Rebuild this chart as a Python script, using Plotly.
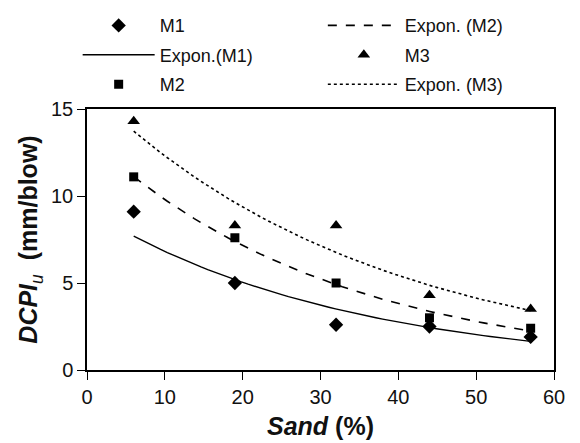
import numpy as np
import plotly.graph_objects as go

sand = [6, 19, 32, 44, 57]
m1 = [9.1, 5.0, 2.6, 2.5, 1.9]
m2 = [11.1, 7.6, 5.0, 3.0, 2.4]
m3 = [14.3, 8.3, 8.3, 4.3, 3.5]

x_ticks = [0, 10, 20, 30, 40, 50, 60]
y_ticks = [0, 5, 10, 15]


def expon_fit(x, y):
    b, ln_a = np.polyfit(np.array(x, float), np.log(np.array(y, float)), 1)
    xs = np.linspace(min(x), max(x), 60)
    return xs, np.exp(ln_a) * np.exp(b * xs)


fig = go.Figure()
black = "black"

fx1, fy1 = expon_fit(sand, m1)
fx2, fy2 = expon_fit(sand, m2)
fx3, fy3 = expon_fit(sand, m3)

fig.add_trace(go.Scatter(x=sand, y=m1, mode="markers", name="M1", legendgroup="a",
                         marker=dict(symbol="diamond", size=11, color=black), legend="legend"))
fig.add_trace(go.Scatter(x=fx1, y=fy1, mode="lines", name="Expon.(M1)", legendgroup="b",
                         line=dict(color=black, width=1.4), legend="legend"))
fig.add_trace(go.Scatter(x=sand, y=m2, mode="markers", name="M2", legendgroup="c",
                         marker=dict(symbol="square", size=9, color=black), legend="legend"))
fig.add_trace(go.Scatter(x=fx2, y=fy2, mode="lines", name="Expon. (M2)", legendgroup="d",
                         line=dict(color=black, width=1.6, dash="dash"), legend="legend2"))
fig.add_trace(go.Scatter(x=sand, y=m3, mode="markers", name="M3", legendgroup="e",
                         marker=dict(symbol="triangle-up", size=11, color=black), legend="legend2"))
fig.add_trace(go.Scatter(x=fx3, y=fy3, mode="lines", name="Expon. (M3)", legendgroup="f",
                         line=dict(color=black, width=1.6, dash="dot"), legend="legend2"))

font = "Liberation Sans, Arial, sans-serif"
leg_common = dict(font=dict(family=font, size=18, color="#111"), bgcolor="rgba(0,0,0,0)",
                  orientation="v", xanchor="left", yanchor="top", tracegroupgap=3,
                  itemwidth=72)

fig.update_layout(
    width=580, height=443,
    margin=dict(l=87, r=26, t=109, b=73, autoexpand=False),
    paper_bgcolor="white", plot_bgcolor="white",
    font=dict(family=font, size=20, color="#111"),
    legend=dict(x=-0.02, y=1.39, **leg_common),
    legend2=dict(x=0.505, y=1.39, **leg_common),
    xaxis=dict(range=[0, 60], tickvals=x_ticks, ticks="outside", ticklen=8,
               tickcolor=black, showgrid=False, zeroline=False,
               showline=True, linecolor=black, linewidth=1.5, mirror=True,
               tickfont=dict(size=20),
               title=dict(text="<b><i>Sand</i> (%)</b>", font=dict(size=25), standoff=11)),
    yaxis=dict(range=[0, 15], tickvals=y_ticks, ticks="outside", ticklen=8,
               tickcolor=black, showgrid=False, zeroline=False,
               showline=True, linecolor=black, linewidth=1.5, mirror=True,
               tickfont=dict(size=20),
               title=dict(text="<b><i>DCPI</i></b><sub><i>u</i></sub><b>  (mm/blow)</b>",
                          font=dict(size=25), standoff=6)),
)

fig.write_html("out.html")
